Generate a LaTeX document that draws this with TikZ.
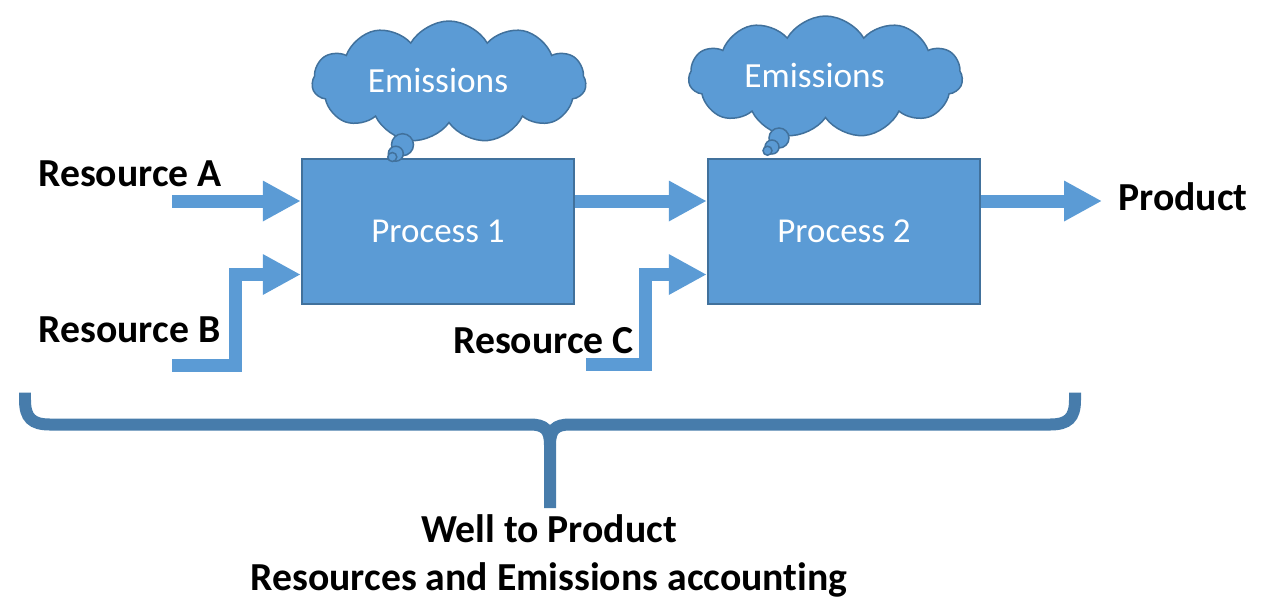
\documentclass[tikz,border=0pt]{standalone}
\usepackage{fontspec}
\setmainfont{Carlito}[Ligatures=NoCommon]
\usetikzlibrary{arrows.meta,shapes.symbols}
\definecolor{procblue}{RGB}{91,155,213}
\definecolor{procedge}{RGB}{65,113,156}
\definecolor{bracecol}{RGB}{71,124,171}
\begin{document}
\begin{tikzpicture}[x=0.02cm, y=-0.02cm,
  proc/.style={draw=procedge, line width=0.04cm, fill=procblue,
               minimum width=5.45cm, minimum height=2.9cm, text=white,
               font=\fontsize{19.9pt}{24pt}\selectfont},
  puff/.style={cloud, cloud puffs=11, cloud puff arc=120, cloud ignores aspect,
               draw=procedge, line width=0.03cm, fill=procblue,
               minimum width=5.48cm, minimum height=2.44cm, inner sep=0pt},
  bubble/.style={draw=procedge, line width=0.03cm, fill=procblue},
  flow/.style={procblue, line width=0.26cm,
               -{Triangle[length=0.76cm, width=0.76cm]}},
  lbl/.style={anchor=base, inner sep=0pt,
              font=\fontsize{22.6pt}{27pt}\selectfont\bfseries},
  wlbl/.style={anchor=base, inner sep=0pt, text=white,
               font=\fontsize{20.1pt}{24pt}\selectfont}]

  \useasboundingbox (0,0) rectangle (1262,610);

  % Procesy
  \node[proc] (p1) at (438,231.5) {Process 1};
  \node[proc] (p2) at (844,231.5) {Process 2};

  % Chmury emisji
  \node[puff] (cl1) at (449,82) {};
  \node[puff] (cl2) at (825.5,77) {};
  \node[wlbl] (em1) at (438,92) {Emissions};
  \node[wlbl] (em2) at (814.5,87) {Emissions};
  \draw[bubble] (402.5,144.7) circle[radius=0.22cm];
  \draw[bubble] (395.8,153.7) circle[radius=0.15cm];
  \draw[bubble] (392.3,157) circle[radius=0.09cm];
  \draw[bubble] (779,138) circle[radius=0.2cm];
  \draw[bubble] (772,147) circle[radius=0.14cm];
  \draw[bubble] (767.5,150.7) circle[radius=0.09cm];

  % Zasoby i produkt
  \node[lbl] (resA) at (130,186) {Resource A};
  \node[lbl] (resB) at (129.5,342.7) {Resource B};
  \node[lbl] (resC) at (543.5,353) {Resource C};
  \node[lbl, anchor=base west] (prod) at (1118,210) {Product};

  % Strzałki
  \coordinate (inA) at (172,201);
  \coordinate (inB) at (172,365);
  \coordinate (bendB) at (235.5,274.5);
  \coordinate (inC) at (586,364.5);
  \coordinate (bendC) at (645.5,274.5);
  \coordinate (outP) at (1102,201);
  \draw[flow] (inA) -- (inA -| p1.west);
  \draw[flow] (inB) -| (bendB) -- (bendB -| p1.west);
  \draw[flow] (p1.east |- inA) -- (p2.west |- inA);
  \draw[flow] (inC) -| (bendC) -- (bendC -| p2.west);
  \draw[flow] (p2.east |- inA) -- (outP);

  % Klamra
  \draw[bracecol, line width=0.24cm] (25,392.7) -- (25,400)
    .. controls (25,418) and (32,424.5) .. (50,424.5) -- (530,424.5)
    .. controls (545,424.5) and (550,430) .. (550,445) -- (550,508);
  \draw[bracecol, line width=0.24cm] (1075,392.7) -- (1075,400)
    .. controls (1075,418) and (1068,424.5) .. (1050,424.5) -- (570,424.5)
    .. controls (555,424.5) and (550,430) .. (550,445);

  % Opis
  \node[lbl] (acc1) at (549,542) {Well to Product};
  \node[lbl] (acc2) at (549,590) {Resources and Emissions accounting};
\end{tikzpicture}
\end{document}
